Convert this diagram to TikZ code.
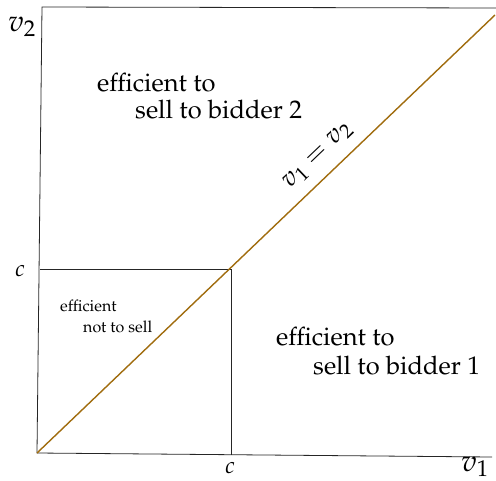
\documentclass[tikz,border=0pt]{standalone}
\usepackage[T1]{fontenc}
\usepackage{mathpazo}
\definecolor{diagcol}{RGB}{160,108,14}
\begin{document}
\begin{tikzpicture}[x=1pt,y=-1pt,
  frame/.style={draw=black!85,line width=0.8pt},
  diag/.style={draw=diagcol,line width=1.4pt},
  bigtxt/.style={inner sep=0pt,anchor=base west,font=\fontsize{25.5}{29}\selectfont},
  smalltxt/.style={inner sep=0pt,anchor=base west,font=\fontsize{16}{19}\selectfont},
  axlab/.style={inner sep=0pt,anchor=base west,font=\fontsize{30}{34}\selectfont},
  clab/.style={inner sep=0pt,anchor=base,font=\fontsize{23}{27}\selectfont}]
\useasboundingbox (0,0) rectangle (496,480);
\coordinate (o) at (37,453);
\coordinate (tl) at (42,7);
\coordinate (tr) at (496,8);
\coordinate (br) at (492,457);
\coordinate (dend) at (495,15);
\coordinate (cy) at (40,269);
\coordinate (cc) at (231,269);
\coordinate (cx) at (231,455);
\draw[frame] (br) -- (o) -- (tl) -- (tr);
\draw[frame] (cy) -- (cc) -- (cx);
\draw[diag] (o) -- (dend);
\node[axlab] (v2) at (8,31) {$v_2$};
\node[axlab] (v1) at (461,471) {$v_1$};
\node[clab] (cl) at (20,276) {$c$};
\node[clab] (cb) at (230,473) {$c$};
\node[bigtxt] (a1) at (97,91) {efficient to};
\node[bigtxt] (a2) at (135,118) {sell to bidder 2};
\node[bigtxt] (b1) at (276,345) {efficient to};
\node[bigtxt] (b2) at (313,374) {sell to bidder 1};
\node[smalltxt] (n1) at (60,311) {efficient};
\node[smalltxt] (n2) at (83,332) {not to sell};
\node[rotate=43.7,inner sep=0pt,font=\fontsize{26.5}{30}\selectfont] (eq) at (318,156) {$v_1=v_2$};
\end{tikzpicture}
\end{document}
